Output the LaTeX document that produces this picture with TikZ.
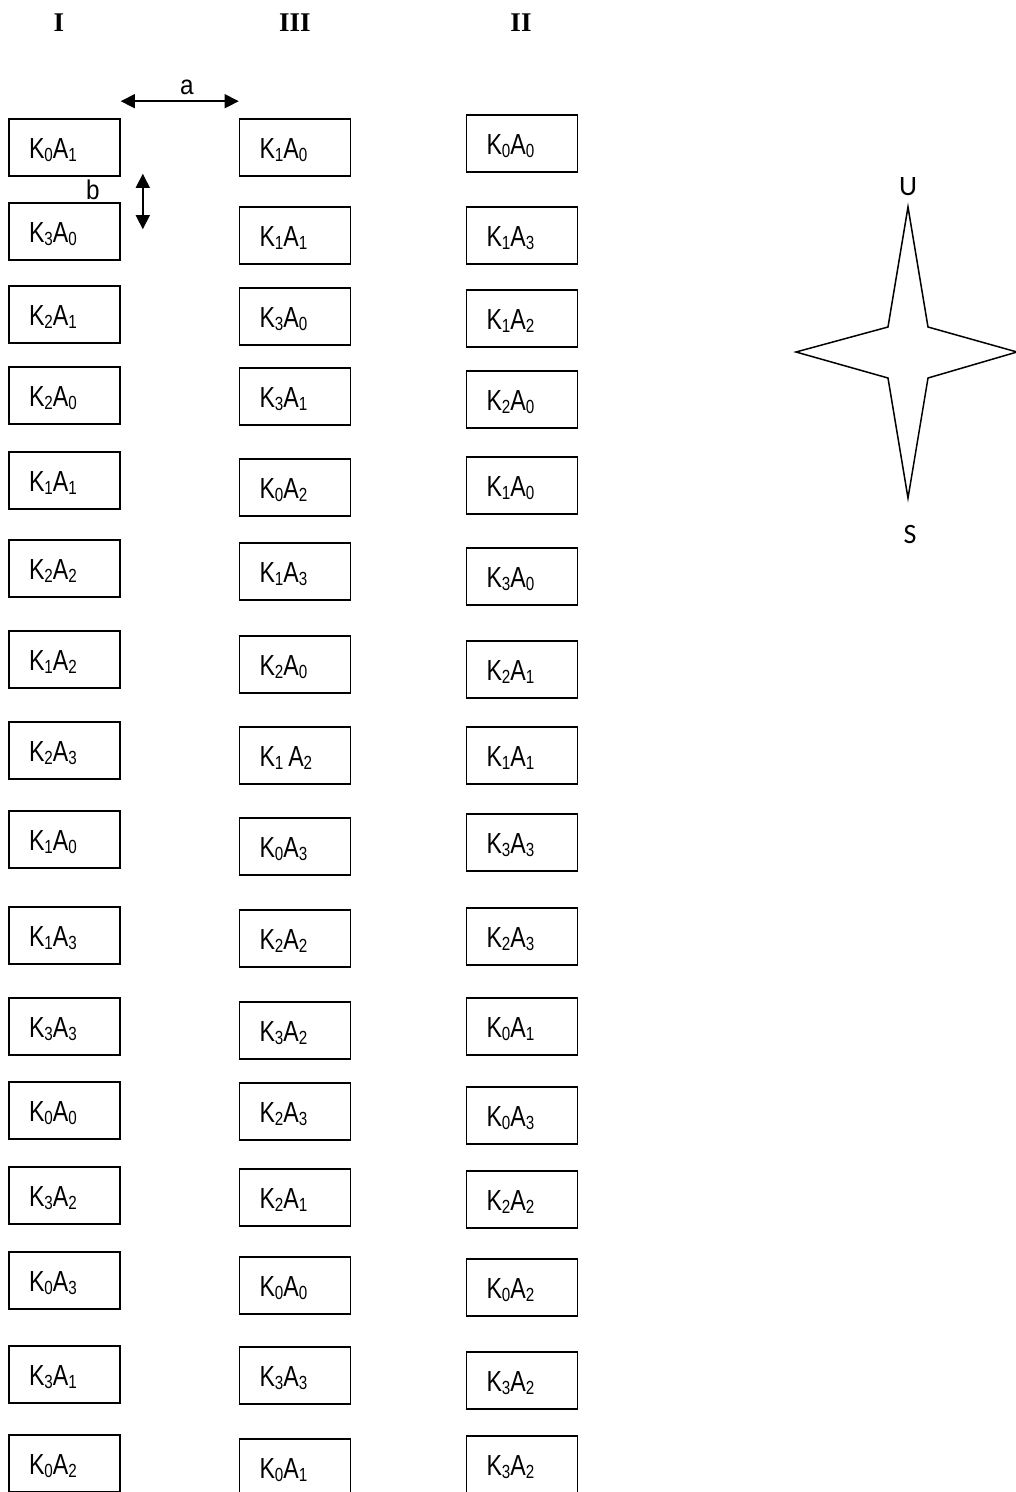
\documentclass[tikz,border=0pt]{standalone}
\usepackage{fontspec}
\usetikzlibrary{arrows.meta}
\newfontfamily\boxfont[FakeStretch=0.8]{Liberation Sans}
\newfontfamily\gapfont[FakeStretch=0.9]{Liberation Sans}
\newfontfamily\headfont{Liberation Serif}
\newfontfamily\dirfont{Carlito}
\newcommand{\lowsub}[1]{\raisebox{-3pt}{\fontsize{19}{19}\selectfont #1}}
\newcommand{\ka}[2]{K\lowsub{#1}A\lowsub{#2}}

\begin{document}
\begin{tikzpicture}[x=1pt,y=-1pt,
  cellbox/.style={draw, line width=1.6pt, text width=71pt, inner xsep=20pt, align=left,
    minimum height=57pt, text height=22pt, text depth=0pt, font=\boxfont\fontsize{29}{32}\selectfont},
  colhead/.style={font=\headfont\bfseries\fontsize{27}{30}\selectfont},
  dirlabel/.style={font=\dirfont\fontsize{28}{30}\selectfont},
  gaplabel/.style={font=\gapfont\fontsize{27}{30}\selectfont, inner sep=1pt},
  gaparrow/.style={line width=1.5pt, {Triangle[length=14pt,width=14pt]}-{Triangle[length=14pt,width=14pt]}}]
\clip (0,0) rectangle (1016,1492);

% column heads
\node[colhead] (headI) at (59,23) {I};
\node[colhead] (headIII) at (295,23) {III};
\node[colhead] (headII) at (521,23) {II};

% column I
\foreach \y/\t [count=\i] in {147.5/\ka{0}{1}, 231.5/\ka{3}{0}, 314.5/\ka{2}{1}, 395.5/\ka{2}{0},
    480.5/\ka{1}{1}, 568.5/\ka{2}{2}, 659.5/\ka{1}{2}, 750.5/\ka{2}{3}, 839.5/\ka{1}{0},
    935.5/\ka{1}{3}, 1026.5/\ka{3}{3}, 1110.5/\ka{0}{0}, 1195.5/\ka{3}{2}, 1280.5/\ka{0}{3},
    1374.5/\ka{3}{1}, 1463.5/\ka{0}{2}}
  \node[cellbox] (I-\i) at (64.5,\y) {\t};

% column III
\foreach \y/\t [count=\i] in {147.5/\ka{1}{0}, 235.5/\ka{1}{1}, 316.5/\ka{3}{0}, 396.5/\ka{3}{1},
    487.5/\ka{0}{2}, 571.5/\ka{1}{3}, 664.5/\ka{2}{0}, 755.5/{K\lowsub{1}\,A\lowsub{2}}, 846.5/\ka{0}{3},
    938.5/\ka{2}{2}, 1030.5/\ka{3}{2}, 1111.5/\ka{2}{3}, 1197.5/\ka{2}{1}, 1285.5/\ka{0}{0},
    1375.5/\ka{3}{3}, 1467.5/\ka{0}{1}}
  \node[cellbox] (III-\i) at (295,\y) {\t};

% column II
\foreach \y/\t [count=\i] in {143.5/\ka{0}{0}, 235.5/\ka{1}{3}, 318.5/\ka{1}{2}, 399.5/\ka{2}{0},
    485.5/\ka{1}{0}, 576.5/\ka{3}{0}, 669.5/\ka{2}{1}, 755.5/\ka{1}{1}, 842.5/\ka{3}{3},
    936.5/\ka{2}{3}, 1026.5/\ka{0}{1}, 1115.5/\ka{0}{3}, 1199.5/\ka{2}{2}, 1287.5/\ka{0}{2},
    1380.5/\ka{3}{2}, 1464.5/\ka{3}{2}}
  \node[cellbox] (II-\i) at (522,\y) {\t};

% spacings a and b
\draw[gaparrow] ([yshift=17pt]I-1.north east) -- ([yshift=17pt]III-1.north west)
  node[gaplabel, pos=0.56, above=5pt] (a) {a};
\draw[gaparrow] ([xshift=22pt,yshift=3pt]I-1.south east) -- ([xshift=22pt,yshift=-27pt]I-2.north east);
\node[gaplabel, anchor=south] (b) at ([xshift=-28pt,yshift=1pt]I-2.north east) {b};

% compass
\draw[line width=1.5pt, line join=miter] (908,207) -- (928,327) -- (1017,352) -- (928,378)
  -- (908,498) -- (888,378) -- (796,352) -- (888,327) -- cycle;
\node[dirlabel] (U) at (908,187) {U};
\node[dirlabel] (S) at (910,535) {S};
\end{tikzpicture}
\end{document}
